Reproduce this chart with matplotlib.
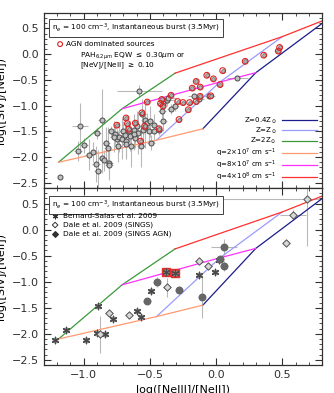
import numpy as np
import matplotlib.pyplot as plt
from matplotlib.ticker import MultipleLocator

# model grid: rows = metallicity (0.4, 1, 2 Zsun), cols = q (2e7, 8e7, 4e8)
grid_x = [[-0.10, 0.30, 0.855],
          [-0.45, 0.03, 0.50],
          [-1.19, -0.71, -0.31]]
grid_y = [[-1.45, -0.36, 0.70],
          [-1.67, -0.54, 0.34],
          [-2.10, -1.06, -0.37]]
z_labels = [r'Z=0.4Z$_\odot$', r'Z=Z$_\odot$', r'Z=2Z$_\odot$']
q_labels = [r'q=2$\times$10$^7$ cm s$^{-1}$', r'q=8$\times$10$^7$ cm s$^{-1}$',
            r'q=4$\times$10$^8$ cm s$^{-1}$']
z_colors = ['#1c1c8c', '#9a9aff', '#3a9a3a']
q_colors = ['#ff9a70', '#ff30ff', '#ff3030']

# top panel: all sources (gray) and AGN dominated (red)
gray_x = [-1.18, -1.03, -1.04, -1.00, -0.96, -0.93, -0.91, -0.89, -0.90, -0.86, -0.86, -0.85,
          -0.83, -0.82, -0.81, -0.81, -0.79, -0.76, -0.75, -0.74, -0.73, -0.71, -0.70, -0.68,
          -0.68, -0.66, -0.65, -0.64, -0.62, -0.61, -0.60, -0.59, -0.58, -0.57, -0.56, -0.55,
          -0.54, -0.54, -0.52, -0.51, -0.50, -0.49, -0.47, -0.47, -0.40, -0.41, -0.40, -0.43,
          -0.37, -0.36, -0.34, -0.31, -0.17, -0.13, -0.05, 0.16, -0.62, -0.69, -0.77]
gray_y = [-2.39, -1.40, -1.88, -1.77, -1.95, -1.90, -2.13, -2.26, -1.54, -1.28, -2.01, -2.06,
          -1.72, -1.82, -2.11, -2.15, -1.50, -1.56, -1.65, -1.79, -1.61, -1.64, -1.50, -1.69,
          -1.74, -1.50, -1.59, -1.79, -1.47, -1.63, -1.40, -1.53, -0.72, -1.79, -1.17, -1.48,
          -1.27, -1.42, -1.34, -1.50, -1.30, -1.72, -1.37, -1.50, -1.30, -1.11, -0.95, -1.48,
          -0.90, -0.85, -1.06, -1.00, -0.82, -0.87, -0.81, -0.46, -1.56, -1.57, -1.60]
gray_yerr = [0.0, 0.45, 0.2, 0.15, 0.3, 0.2, 0.35, 0.4, 0.1, 0.6, 0.3, 0.2,
             0.3, 0.4, 0.3, 0.3, 0.1, 0.2, 0.2, 0.3, 0.3, 0.4, 0.2, 0.3,
             0.3, 0.2, 0.3, 0.4, 0.3, 0.2, 0.3, 0.4, 0.12, 0.4, 0.3, 0.3,
             0.3, 0.4, 0.2, 0.2, 0.3, 0.15, 0.2, 0.2, 0.2, 0.15, 0.1, 0.1,
             0.1, 0.1, 0.1, 0.1, 0.05, 0.05, 0.05, 0.05, 0.3, 0.2, 0.3]
gray_xerr = [0.0, 0.06, 0.03, 0.03, 0.03, 0.03, 0.03, 0.03, 0.03, 0.03, 0.03, 0.03,
             0.03, 0.03, 0.03, 0.03, 0.03, 0.03, 0.03, 0.03, 0.03, 0.03, 0.03, 0.03,
             0.03, 0.03, 0.03, 0.03, 0.03, 0.03, 0.03, 0.03, 0.17, 0.03, 0.03, 0.03,
             0.03, 0.03, 0.03, 0.03, 0.03, 0.03, 0.03, 0.03, 0.03, 0.03, 0.03, 0.03,
             0.06, 0.06, 0.03, 0.03, 0.04, 0.04, 0.04, 0.08, 0.03, 0.03, 0.03]
agn_x = [-0.75, -0.68, -0.67, -0.66, -0.61, -0.56, -0.54, -0.57, -0.52, -0.43, -0.42, -0.41,
         -0.40, -0.34, -0.29, -0.28, -0.25, -0.21, -0.20, -0.18, -0.15, -0.15, -0.12, -0.12,
         -0.07, -0.04, -0.02, 0.03, 0.05, 0.22, 0.36, 0.47, 0.48]
agn_y = [-1.38, -1.24, -1.35, -1.46, -1.34, -1.14, -1.40, -1.69, -0.93, -1.45, -0.96, -0.88,
         -1.01, -0.80, -0.92, -1.27, -0.94, -1.08, -0.94, -0.66, -0.92, -0.53, -0.82, -0.64,
         -0.41, -0.81, -0.48, -0.59, -0.32, -0.14, -0.02, 0.06, 0.13]

# bottom panel: literature samples
bs_x = [-1.22, -1.13, -0.98, -0.89, -0.90, -0.84, -0.78, -0.60, -0.57, -0.49, -0.38, -0.31,
        -0.13, -0.01, 0.02]
bs_y = [-2.11, -1.93, -2.11, -1.47, -1.99, -2.01, -1.71, -1.56, -1.68, -1.18, -0.82, -0.83,
        -0.88, -0.82, -0.59]
dale_x = [-0.81, -0.88, -0.66, -0.37, -0.13, -0.06, 0.58, 0.53, 0.69]
dale_y = [-1.61, -2.01, -1.64, -1.11, -0.61, -0.70, 0.28, -0.26, 0.58]
dale_yerr = [0.05, 0.35, 0.05, 0.18, 0.05, 0.05, 0.1, 0.05, 0.9]
dale_xerr = [0.03, 0.03, 0.03, 0.03, 0.03, 0.03, 0.1, 0.03, 0.95]
dagn_x = [-0.52, -0.45, -0.28, -0.11, 0.06, 0.06, 0.03]
dagn_y = [-1.37, -1.00, -1.16, -1.30, -0.70, -0.33, -0.57]
dagn_yerr = [0.06, 0.1, 0.08, 0.4, 0.1, 0.15, 0.05]
dagn_xerr = [0.03, 0.03, 0.03, 0.03, 0.03, 0.1, 0.03]
red_sq_x = [-0.38, -0.31]
red_sq_y = [-0.82, -0.83]

plt.rcParams['font.family'] = 'DejaVu Sans'
fig = plt.figure(figsize=(3.34, 3.93), dpi=100)
ax1 = fig.add_axes([0.1317, 0.5216, 0.8323, 0.4454])
ax2 = fig.add_axes([0.1317, 0.0712, 0.8323, 0.4504])

FS = 5.3


def draw_grid(ax, with_legend):
    gx = np.array(grid_x)
    gy = np.array(grid_y)
    for i in range(3):
        ax.plot(gx[i], gy[i], color=z_colors[i], lw=0.9, label=z_labels[i], zorder=2)
    for j in range(3):
        ax.plot(gx[:, j], gy[:, j], color=q_colors[j], lw=0.9, label=q_labels[j], zorder=2)
    if with_legend:
        ax.legend(loc='lower right', frameon=False, fontsize=5.0, markerfirst=False,
                  handlelength=5.0, labelspacing=0.0, borderaxespad=0.3, handletextpad=0.8)


def style(ax):
    ax.set_xlim(-1.3, 0.8)
    ax.set_ylim(-2.6, 0.8)
    ax.xaxis.set_major_locator(MultipleLocator(0.5))
    ax.xaxis.set_minor_locator(MultipleLocator(0.1))
    ax.yaxis.set_major_locator(MultipleLocator(0.5))
    ax.yaxis.set_minor_locator(MultipleLocator(0.1))
    ax.tick_params(which='both', direction='in', top=True, right=True, labelsize=8,
                   colors='#303030')
    ax.tick_params(which='major', length=5, width=0.8)
    ax.tick_params(which='minor', length=2.5, width=0.6)
    for s in ax.spines.values():
        s.set_linewidth(0.9)
        s.set_color('#303030')


# top panel
draw_grid(ax1, True)
ax1.errorbar(gray_x, gray_y, xerr=gray_xerr, yerr=gray_yerr, fmt='none', ecolor='#b8b8b8',
             elinewidth=0.8, zorder=1)
ax1.scatter(gray_x, gray_y, s=13, facecolors='#c0c0c0', edgecolors='#4a4a4a', linewidths=0.7, zorder=3)
ax1.scatter(agn_x, agn_y, s=7, facecolors='#b0b0b0', edgecolors='#606060', linewidths=0.5, zorder=3)
ax1.scatter(agn_x, agn_y, s=17, facecolors='none', edgecolors='#e02020', linewidths=0.8, zorder=4)
style(ax1)
ax1.tick_params(labelbottom=False)

ax1.text(0.03, 0.915, r'n$_e$ = 100 cm$^{-3}$, Instantaneous burst (3.5Myr)', transform=ax1.transAxes,
         fontsize=FS, va='center', ha='left',
         bbox=dict(boxstyle='square,pad=0.4', fc='white', ec='#404040', lw=0.7))
ax1.scatter([0.058], [0.822], s=12, facecolors='none', edgecolors='#e02020', linewidths=0.8,
            transform=ax1.transAxes)
ax1.text(0.08, 0.822, 'AGN dominated sources', transform=ax1.transAxes, fontsize=FS, va='center')
ax1.text(0.13, 0.755, r'PAH$_{6.2\mu m}$ EQW $\leq$ 0.30$\mu$m or', transform=ax1.transAxes,
         fontsize=FS, va='center')
ax1.text(0.13, 0.700, r'[NeV]/[NeII] $\geq$ 0.10', transform=ax1.transAxes, fontsize=FS, va='center')

# bottom panel
draw_grid(ax2, False)
ax2.scatter(red_sq_x, red_sq_y, s=30, marker='s', color='#e03030', zorder=3)
ax2.errorbar(dale_x, dale_y, xerr=dale_xerr, yerr=dale_yerr, fmt='none', ecolor='#b8b8b8',
             elinewidth=0.8, zorder=1)
ax2.errorbar(dagn_x, dagn_y, xerr=dagn_xerr, yerr=dagn_yerr, fmt='none', ecolor='#b8b8b8',
             elinewidth=0.8, zorder=1)
ax2.scatter(bs_x, bs_y, s=10, marker='s', color='#a0a0a0', zorder=3)
ax2.scatter(bs_x, bs_y, s=22, marker=(6, 2, 0), color='#4a4a4a', linewidths=0.9, zorder=4)
ax2.scatter(dale_x, dale_y, s=14, marker='D', facecolors='#d8d8d8', edgecolors='#505050',
            linewidths=0.7, zorder=4)
ax2.scatter(dagn_x, dagn_y, s=22, marker='o', color='#666666', zorder=4)
style(ax2)

ax2.text(0.03, 0.904, r'n$_e$ = 100 cm$^{-3}$, Instantaneous burst (3.5Myr)', transform=ax2.transAxes,
         fontsize=FS, va='center', ha='left',
         bbox=dict(boxstyle='square,pad=0.4', fc='white', ec='#404040', lw=0.7))
ax2.scatter([0.04], [0.842], s=12, marker=(6, 2, 0), color='#303030', linewidths=0.8,
            transform=ax2.transAxes)
ax2.scatter([0.04], [0.791], s=8, marker='D', facecolors='none', edgecolors='#303030',
            linewidths=0.7, transform=ax2.transAxes)
ax2.scatter([0.04], [0.740], s=8, marker='D', color='#303030', transform=ax2.transAxes)
ax2.text(0.068, 0.842, 'Bernard-Salas et al. 2009', transform=ax2.transAxes, fontsize=FS, va='center')
ax2.text(0.068, 0.791, 'Dale et al. 2009 (SINGS)', transform=ax2.transAxes, fontsize=FS, va='center')
ax2.text(0.068, 0.740, 'Dale et al. 2009 (SINGS AGN)', transform=ax2.transAxes, fontsize=FS, va='center')

ax2.set_xlabel('log([NeIII]/[NeII])', fontsize=8, labelpad=4)
ax1.set_ylabel('log([SIV]/[NeII])', fontsize=8, labelpad=4)
ax2.set_ylabel('log([SIV]/[NeII])', fontsize=8, labelpad=4)

fig.savefig('out.png', dpi=100)
